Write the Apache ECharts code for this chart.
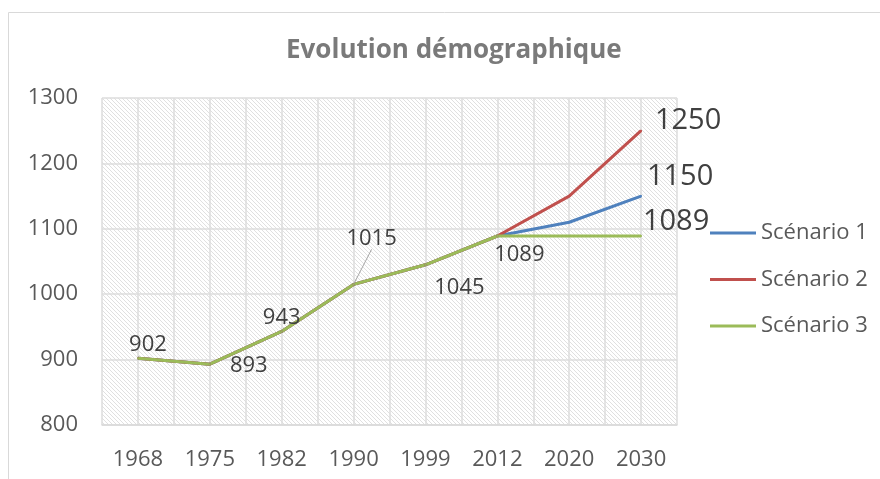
<!DOCTYPE html>
<html lang="fr">
<head>
  <meta charset="utf-8">
  <title>Evolution démographique</title>
  <style>
    * { margin: 0; padding: 0; }
    html, body { background: #fff; }
    #chart-container { width: 880px; height: 479px; }
  </style>
</head>
<body>
  <div id="chart-container"></div>
  <script src="https://fastly.jsdelivr.net/npm/echarts@6/dist/echarts.min.js"></script>
  <script>
    // données
    var years = ['1968', '1975', '1982', '1990', '1999', '2012', '2020', '2030'];
    var scenario1 = [902, 893, 943, 1015, 1045, 1089, 1110, 1150];
    var scenario2 = [902, 893, 943, 1015, 1045, 1089, 1150, 1250];
    var scenario3 = [902, 893, 943, 1015, 1045, 1089, 1089, 1089];
    var seriesNames = ['Scénario 1', 'Scénario 2', 'Scénario 3'];
    var yTicks = [800, 900, 1000, 1100, 1200, 1300];

    var FONT = '"Open Sans", "Noto Sans", sans-serif';

    // fond hachuré de la zone de traçage
    function hatch() {
      var c = document.createElement('canvas');
      c.width = 8; c.height = 8;
      var ctx = c.getContext('2d');
      ctx.fillStyle = '#ffffff';
      ctx.fillRect(0, 0, 8, 8);
      ctx.strokeStyle = '#e0e0e0';
      ctx.lineWidth = 1;
      for (var k = -8; k <= 8; k += 4) {
        ctx.beginPath();
        ctx.moveTo(k, 0);
        ctx.lineTo(k + 8, 8);
        ctx.stroke();
      }
      return c;
    }

    // position des étiquettes (décalage par rapport au point)
    var labelOffsets3 = [[10, -14], [39, 2], [0, -14], [18, -46], [34, 23], [22, 19], null, [35, -14]];

    function buildData(values, offsets, endOffset) {
      return values.map(function (v, i) {
        var item = { value: v };
        var off = offsets ? offsets[i] : (i === values.length - 1 ? endOffset : null);
        if (off) {
          var isEnd = i === values.length - 1;
          item.label = {
            show: true,
            position: 'inside',
            offset: off,
            fontSize: isEnd ? 29 : 22,
            color: '#404040',
            fontFamily: FONT
          };
          if (i === 3 && offsets) {
            item.labelLine = { show: true, lineStyle: { color: '#a6a6a6', width: 1 } };
          }
        }
        return item;
      });
    }

    var dom = document.getElementById('chart-container');
    var myChart = echarts.init(dom, null, { renderer: 'canvas' });

    var colors = ['#4F81BD', '#C0504D', '#9BBB59'];

    function lineSeries(name, data, color) {
      return {
        name: name,
        type: 'line',
        data: data,
        symbol: 'circle',
        symbolSize: 2,
        itemStyle: { color: color },
        lineStyle: { color: color, width: 3 },
        label: { show: false },
        labelLine: { show: false },
        emphasis: { disabled: true },
        animation: false
      };
    }

    var option = {
      animation: false,
      title: {
        text: 'Evolution démographique',
        left: 281,
        top: 33,
        textStyle: { fontFamily: FONT, fontSize: 26, fontWeight: 'bold', color: '#7a7a7a' }
      },
      graphic: [{
        type: 'rect',
        shape: { x: 8.5, y: 12.5, width: 900, height: 500 },
        style: { fill: 'none', stroke: '#d9d9d9', lineWidth: 1 },
        silent: true
      }],
      legend: {
        orient: 'vertical',
        left: 710,
        top: 221,
        padding: 0,
        icon: 'rect',
        itemWidth: 46,
        itemHeight: 3,
        itemGap: 22.5,
        data: seriesNames,
        textStyle: { fontFamily: FONT, fontSize: 22, color: '#595959', lineHeight: 24 }
      },
      grid: {
        left: 102, right: 203, top: 98, bottom: 54,
        show: true,
        borderWidth: 0,
        backgroundColor: { image: hatch(), repeat: 'repeat' }
      },
      xAxis: [{
        type: 'category',
        data: years,
        boundaryGap: true,
        axisLine: { lineStyle: { color: '#d9d9d9', width: 1.5 } },
        axisTick: { show: false },
        splitLine: { show: false },
        axisLabel: { fontFamily: FONT, fontSize: 22, color: '#595959', margin: 24 }
      }, {
        type: 'value',
        min: 0, max: 16, interval: 1,
        position: 'top',
        axisLine: { show: false },
        axisTick: { show: false },
        axisLabel: { show: false },
        splitLine: { show: true, lineStyle: { color: '#dddddd', width: 1.5 } }
      }],
      yAxis: {
        type: 'value',
        min: yTicks[0], max: yTicks[yTicks.length - 1], interval: 100,
        axisLine: { show: false },
        axisTick: { show: false },
        splitLine: { lineStyle: { color: '#dddddd', width: 1.5 } },
        axisLabel: {
          fontFamily: FONT, fontSize: 22, color: '#595959', margin: 24,
          formatter: function (v) { return String(v); }
        }
      },
      series: [
        lineSeries(seriesNames[0], buildData(scenario1, null, [39, -19]), colors[0]),
        lineSeries(seriesNames[1], buildData(scenario2, null, [47, -10]), colors[1]),
        lineSeries(seriesNames[2], buildData(scenario3, labelOffsets3), colors[2])
      ]
    };

    myChart.setOption(option);
    window.addEventListener('resize', myChart.resize);
  </script>
</body>
</html>
